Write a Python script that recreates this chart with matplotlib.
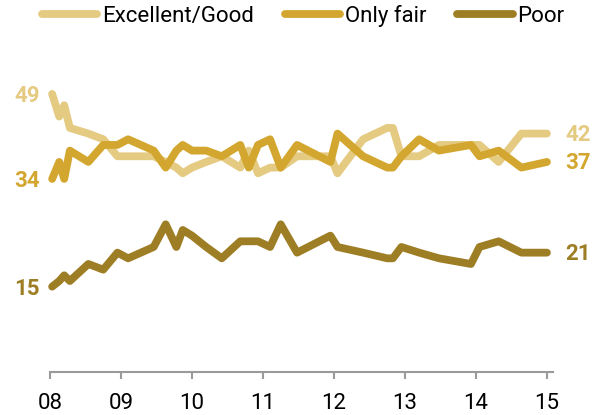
import numpy as np
import matplotlib
matplotlib.use("Agg")
import matplotlib.pyplot as plt

# survey dates (fractional year) and readings for each series
dates = [2008.03, 2008.13, 2008.20, 2008.28, 2008.54, 2008.75, 2008.95, 2009.10,
         2009.46, 2009.63, 2009.78, 2009.87, 2010.00, 2010.20, 2010.42, 2010.68,
         2010.80, 2010.93, 2011.10, 2011.25, 2011.48, 2011.95, 2012.05, 2012.41,
         2012.75, 2012.83, 2012.95, 2013.20, 2013.48, 2013.93, 2014.05, 2014.32,
         2014.64, 2015.00]
excellent_good = [49, 45, 47, 43, 42, 41, 38, 38, 38, 37, 36, 35, 36, 37, 38, 36,
                  39, 35, 36, 36, 38, 38, 35, 41, 43, 43, 38, 38, 40, 40, 40, 37,
                  42, 42]
only_fair = [34, 37, 34, 39, 37, 40, 40, 41, 39, 36, 39, 40, 39, 39, 38, 40,
             36, 40, 41, 36, 40, 37, 42, 38, 36, 36, 38, 41, 39, 40, 38, 39,
             36, 37]
poor = [15, 16, 17, 16, 19, 18, 21, 20, 22, 26, 22, 25, 24, 22, 20, 23,
        23, 23, 22, 26, 21, 24, 22, 21, 20, 20, 22, 21, 20, 19, 22, 23,
        21, 21]

labels = ["Excellent/Good", "Only fair", "Poor"]
colors = ["#e5ca82", "#d3a72f", "#9e7e25"]
year_ticks = [2008, 2009, 2010, 2011, 2012, 2013, 2014, 2015]
year_labels = ["08", "09", "10", "11", "12", "13", "14", "15"]

plt.rcParams['font.family'] = ['Roboto', 'DejaVu Sans']

fig = plt.figure(figsize=(6.01, 4.15), dpi=100)
ax = fig.add_axes([50 / 601, 43.3 / 415, 502.6 / 601, 311.8 / 415])

series = [excellent_good, only_fair, poor]
for ys, lab, c in zip(series, labels, colors):
    ax.plot(dates, ys, color=c, lw=5.6, label=lab, solid_capstyle="round",
            solid_joinstyle="round", clip_on=False)

ax.set_xlim(2008, 2015.08)
ax.set_ylim(0, 55)
ax.set_xticks(year_ticks)
ax.set_xticklabels(year_labels, fontsize=16)
ax.set_yticks([])
for s in ["top", "left", "right"]:
    ax.spines[s].set_visible(False)
ax.spines["bottom"].set_color("#9a9a9a")
ax.spines["bottom"].set_linewidth(1.5)
ax.tick_params(axis="x", length=5, width=1.5, color="#9a9a9a", pad=10)

# start / end value labels
for ys, c in zip(series, colors):
    ax.annotate(str(ys[0]), (dates[0], ys[0]), xytext=(-9, -1.5), textcoords="offset points",
                ha="right", va="center", fontsize=16, fontweight="bold", color=c)
    ax.annotate(str(ys[-1]), (dates[-1], ys[-1]), xytext=(13, -1), textcoords="offset points",
                ha="left", va="center", fontsize=16, fontweight="bold", color=c)

fig.legend(loc="center", bbox_to_anchor=(303 / 601, 1 - 16 / 415), ncol=3, frameon=False,
           fontsize=16, handlelength=2.5, handletextpad=0.2, columnspacing=1.4)

fig.savefig("out.png", dpi=100)
